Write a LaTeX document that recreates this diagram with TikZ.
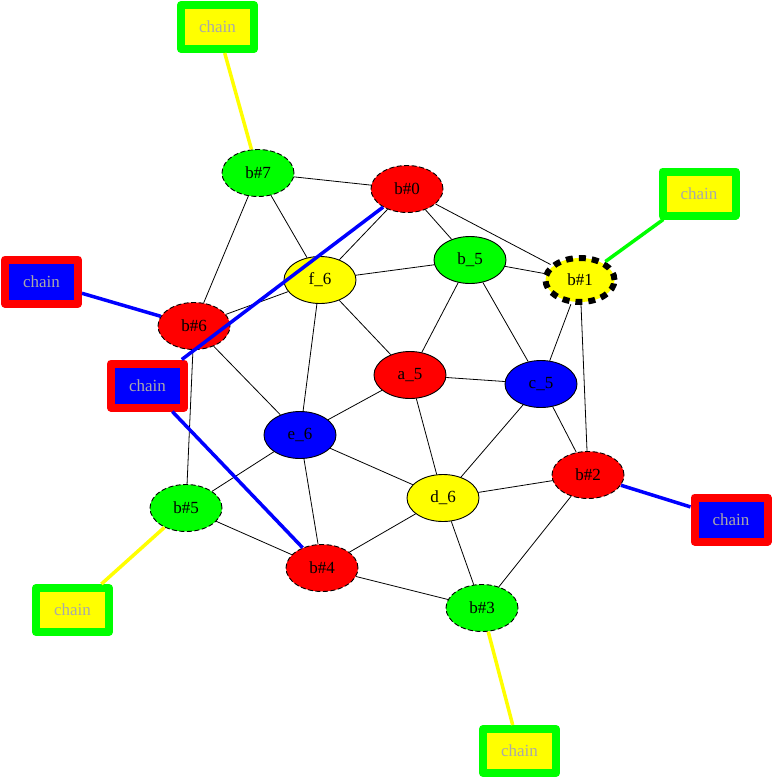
\documentclass[tikz,border=0pt]{standalone}
\usepackage{fontspec}
\setmainfont{Liberation Serif}
\usetikzlibrary{shapes.geometric}
\definecolor{gr}{RGB}{0,255,0}
\definecolor{rd}{RGB}{255,0,0}
\definecolor{bl}{RGB}{0,0,255}
\definecolor{yl}{RGB}{255,255,0}
\definecolor{txtgray}{RGB}{169,169,169}
\begin{document}
\begin{tikzpicture}[x=1pt,y=-1pt,
  vnode/.style={ellipse,draw=black,line width=0.9pt,minimum width=72pt,minimum height=47pt,inner sep=0pt,font=\fontsize{17pt}{19pt}\selectfont},
  bnode/.style={vnode,dash pattern=on 5pt off 2.5pt},
  specnode/.style={vnode,line width=6pt,dash pattern=on 7pt off 6pt,minimum width=69pt,minimum height=44pt},
  chainbox/.style={rectangle,line width=8pt,line join=round,minimum width=73pt,minimum height=44pt,inner sep=0pt,text=txtgray,font=\fontsize{17pt}{19pt}\selectfont},
  chainY/.style={chainbox,draw=gr,fill=yl},
  chainB/.style={chainbox,draw=rd,fill=bl},
  edge/.style={line width=0.8pt},
  link/.style={line width=3.5pt}
]
\useasboundingbox (0,0) rectangle (772,781);
% graph nodes
\node[bnode,fill=gr] (b7) at (258,173) {b\#7};
\node[bnode,fill=rd] (b0) at (407,189) {b\#0};
\node[vnode,fill=gr] (b5s) at (470,260) {b\_5};
\node[specnode,fill=yl] (b1) at (580,280) {b\#1};
\node[vnode,fill=yl] (f6) at (320,280) {f\_6};
\node[bnode,fill=rd] (b6) at (194,326) {b\#6};
\node[vnode,fill=rd] (a5) at (410,375) {a\_5};
\node[vnode,fill=bl] (c5) at (541,384) {c\_5};
\node[vnode,fill=bl] (e6) at (300,435) {e\_6};
\node[vnode,fill=yl] (d6) at (443,498) {d\_6};
\node[bnode,fill=rd] (b2) at (588,475) {b\#2};
\node[bnode,fill=gr] (b5) at (186,508) {b\#5};
\node[bnode,fill=rd] (b4) at (322,568) {b\#4};
\node[bnode,fill=gr] (b3) at (482,608) {b\#3};
% chain boxes
\node[chainY] (ch1) at (217.5,27) {chain};
\node[chainY] (ch2) at (699,193.5) {chain};
\node[chainB] (ch3) at (41.5,281.5) {chain};
\node[chainB] (ch4) at (147.5,385.5) {chain};
\node[chainB] (ch5) at (731,519.5) {chain};
\node[chainY] (ch6) at (72.5,610) {chain};
\node[chainY] (ch7) at (519.5,751) {chain};
% edges
\foreach \a/\b in {b7/b0,b7/f6,b7/b6,b0/f6,b0/b5s,b0/b1,f6/b5s,f6/b6,f6/a5,f6/e6,
  b5s/b1,b5s/a5,b5s/c5,b1/c5,b1/b2,b6/e6,b6/b5,a5/c5,a5/e6,a5/d6,c5/d6,c5/b2,
  e6/b5,e6/b4,e6/d6,d6/b2,d6/b4,d6/b3,b2/b3,b5/b4,b4/b3}
  \draw[edge] (\a) -- (\b);
% chain links
\draw[link,yl] (ch1) -- (b7);
\draw[link,gr] (ch2) -- (b1);
\draw[link,bl] (ch3) -- (b6);
\draw[link,bl] (ch4) -- (b0);
\draw[link,bl] (ch4) -- (b4);
\draw[link,bl] (ch5) -- (b2);
\draw[link,yl] (ch6) -- (b5);
\draw[link,yl] (ch7) -- (b3);
\end{tikzpicture}
\end{document}
